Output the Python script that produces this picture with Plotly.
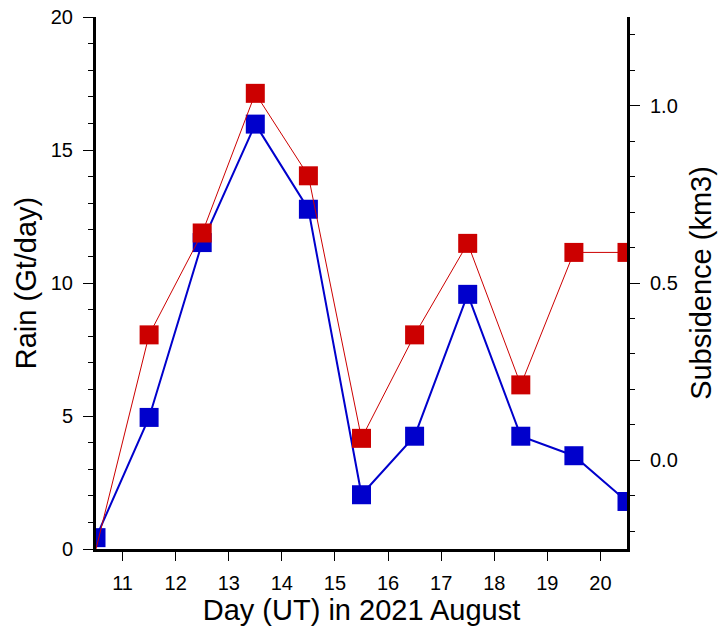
import plotly.graph_objects as go

days = [10.5, 11.5, 12.5, 13.5, 14.5, 15.5, 16.5, 17.5, 18.5, 19.5, 20.5]
rain = [0.0, 8.05, 11.88, 17.13, 14.03, 4.16, 8.05, 11.49, 6.17, 11.15, 11.15]
subsidence = [-0.218, 0.121, 0.614, 0.948, 0.708, -0.097, 0.068, 0.468, 0.068, 0.013, -0.116]

RED = "#cc0000"
BLUE = "#0000cc"
FONT = "Liberation Sans, Arial, Helvetica, sans-serif"
TICK = 20
TITLE = 29

fig = go.Figure()
# blue series (subsidence) on the right axis (drawn below)
fig.add_trace(go.Scatter(x=days, y=subsidence, mode="lines+markers", yaxis="y",
                         line=dict(color=BLUE, width=2),
                         marker=dict(symbol="square", size=19, color=BLUE,
                                     line=dict(width=0)),
                         cliponaxis=True, showlegend=False))
# red series (rain) on the left axis (drawn above)
fig.add_trace(go.Scatter(x=days, y=rain, mode="lines", yaxis="y2",
                         line=dict(color=RED, width=1),
                         cliponaxis=True, showlegend=False))
fig.add_trace(go.Scatter(x=days[1:], y=rain[1:], mode="markers", yaxis="y2",
                         marker=dict(symbol="square", size=19, color=RED,
                                     line=dict(width=0)),
                         cliponaxis=True, showlegend=False))

fig.update_layout(
    width=721, height=630,
    margin=dict(l=96, r=94, t=17, b=81, autoexpand=False),
    paper_bgcolor="white", plot_bgcolor="white",
    font=dict(family=FONT, color="black", size=TICK),
    showlegend=False,
    xaxis=dict(range=[10.5, 20.5], tick0=0, dtick=1, ticks="outside", ticklen=9,
               tickwidth=1, tickcolor="black", showline=True, linewidth=3,
               linecolor="black", showgrid=False, zeroline=False, automargin=False,
               tickfont=dict(size=TICK), ticklabelstandoff=5,
               title=dict(text="Day (UT) in 2021 August", font=dict(size=TITLE), standoff=7)),
    xaxis2=dict(range=[10.5, 20.5], overlaying="x", side="top", anchor="y",
                tick0=0, dtick=5, ticks="outside", ticklen=9, tickwidth=1,
                tickcolor="black", showticklabels=False, showline=True, linewidth=3,
                linecolor="black", showgrid=False, zeroline=False, automargin=False,
                minor=dict(dtick=1, ticks="outside", ticklen=5, tickcolor="black", tickwidth=1)),
    yaxis=dict(range=[-0.25, 1.25], side="right", tick0=0, dtick=0.5, tickformat=".1f",
               ticks="outside", ticklen=10, tickwidth=1, tickcolor="black",
               showline=True, linewidth=3, linecolor="black", showgrid=False,
               zeroline=False, tickfont=dict(size=TICK), automargin=False,
               ticklabelstandoff=6,
               minor=dict(dtick=0.1, ticks="outside", ticklen=5, tickcolor="black", tickwidth=1),
               title=dict(text="Subsidence (km3)", font=dict(size=TITLE), standoff=14)),
    yaxis2=dict(range=[0, 20], overlaying="y", side="left", tick0=0, dtick=5,
                ticks="outside", ticklen=10, tickwidth=1, tickcolor="black",
                showline=True, linewidth=3, linecolor="black", showgrid=False,
                zeroline=False, tickfont=dict(size=TICK), automargin=False,
                ticklabelstandoff=6,
                minor=dict(dtick=1, ticks="outside", ticklen=5, tickcolor="black", tickwidth=1),
                title=dict(text="Rain (Gt/day)", font=dict(size=TITLE), standoff=6)),
)

fig.write_html("out.html")
